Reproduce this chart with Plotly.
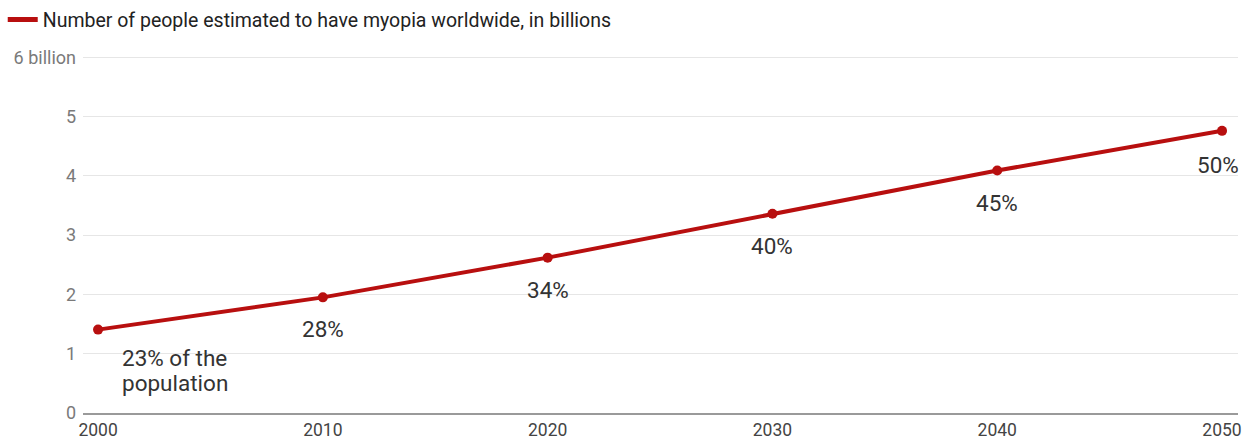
import plotly.graph_objects as go

years = [2000, 2010, 2020, 2030, 2040, 2050]
myopia_billions = [1.406, 1.950, 2.620, 3.361, 4.089, 4.758]
share_labels = ["23% of the<br>population", "28%", "34%", "40%", "45%", "50%"]
y_tick_vals = [0, 1, 2, 3, 4, 5, 6]
y_tick_text = ["0", "1", "2", "3", "4", "5", "6 billion"]
x_tick_vals = [2000, 2010, 2020, 2030, 2040, 2050]
series_name = "Number of people estimated to have myopia worldwide, in billions"

RED = "#b80f0f"
fig = go.Figure()
fig.add_trace(go.Scatter(
    x=years, y=myopia_billions, mode="lines+markers",
    line=dict(color=RED, width=4), marker=dict(color=RED, size=10),
    showlegend=False, hoverinfo="x+y"))
fig.add_trace(go.Scatter(
    x=[None], y=[None], mode="lines", name=series_name,
    line=dict(color=RED, width=5), showlegend=True))

LINE_GAP = 25
for i, (x, y, t) in enumerate(zip(years, myopia_billions, share_labels)):
    lines = t.split("<br>")
    if i == 0:
        kw = dict(xanchor="left", xshift=22)
        base = -41 + (len(lines) - 1) * LINE_GAP / 2
    elif i == len(years) - 1:
        kw = dict(xanchor="right", xshift=19)
        base = -34
    else:
        kw = dict(xanchor="center", xshift=0)
        base = -32
    for j, ln in enumerate(lines):
        fig.add_annotation(x=x, y=y, text=ln, showarrow=False, yanchor="middle",
                           yshift=base - j * LINE_GAP,
                           font=dict(family="Roboto", size=22.5, color="#333333"), **kw)

fig.update_layout(
    width=1248, height=441,
    margin=dict(l=83, r=10, t=56, b=28, autoexpand=False),
    paper_bgcolor="white", plot_bgcolor="white",
    font=dict(family="Roboto"),
    legend=dict(x=-0.0695, y=1.101, xanchor="left", yanchor="middle",
                orientation="h", font=dict(size=19.5, color="#222222"),
                bgcolor="rgba(0,0,0,0)", itemwidth=30),
    xaxis=dict(range=[1999.33, 2050.71], tickvals=x_tick_vals, showgrid=False,
               showline=True, linecolor="#9a9a9a", linewidth=2, zeroline=False,
               tickfont=dict(size=17.5, color="#444444"), ticks="", ticklabelstandoff=0,
               automargin=False),
    yaxis=dict(range=[0, 6.02], tickvals=y_tick_vals, ticktext=y_tick_text,
               showgrid=True, gridcolor="#e6e6e6", gridwidth=1, zeroline=False,
               tickfont=dict(size=18, color="#7a7a7a"), ticks="", ticklabelstandoff=6,
               automargin=False),
)
fig.write_html("out.html")
